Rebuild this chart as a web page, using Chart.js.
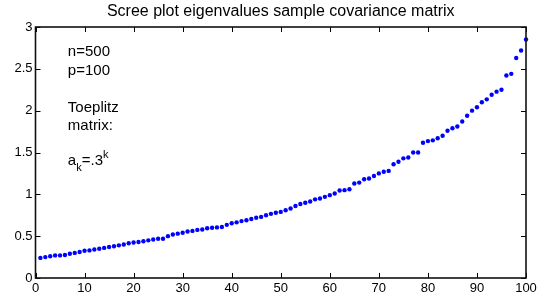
<!DOCTYPE html>
<html>
<head>
<meta charset="utf-8">
<script src="https://cdn.jsdelivr.net/npm/chart.js@4/dist/chart.umd.min.js"></script>
<style>
  html, body { margin: 0; padding: 0; background: #fff; }
  #wrap { width: 537px; height: 301px; }
</style>
</head>
<body>
<div id="wrap"><canvas id="c" width="537" height="301"></canvas></div>
<script>
const titleText = 'Scree plot eigenvalues sample covariance matrix';
const componentIndex = Array.from({length: 100}, (_, i) => i + 1);
const eigenvalues = [
  0.24, 0.25, 0.26, 0.27, 0.27, 0.275, 0.29, 0.30, 0.31, 0.325,
  0.33, 0.34, 0.35, 0.36, 0.37, 0.38, 0.39, 0.40, 0.415, 0.425,
  0.43, 0.44, 0.45, 0.46, 0.47, 0.47, 0.50, 0.52, 0.53, 0.54,
  0.555, 0.563, 0.575, 0.58, 0.595, 0.60, 0.605, 0.61, 0.635, 0.655,
  0.665, 0.68, 0.69, 0.705, 0.72, 0.73, 0.75, 0.767, 0.78, 0.79,
  0.81, 0.83, 0.86, 0.885, 0.90, 0.914, 0.94, 0.95, 0.97, 0.99,
  1.01, 1.045, 1.05, 1.06, 1.13, 1.14, 1.18, 1.19, 1.22, 1.25,
  1.27, 1.28, 1.36, 1.39, 1.43, 1.44, 1.50, 1.50, 1.617, 1.636,
  1.645, 1.67, 1.70, 1.76, 1.79, 1.81, 1.87, 1.94, 2.00, 2.04,
  2.10, 2.135, 2.19, 2.227, 2.25, 2.42, 2.44, 2.63, 2.72, 2.85
];
const xTicks = [0, 10, 20, 30, 40, 50, 60, 70, 80, 90, 100];
const yTicks = [0, 0.5, 1, 1.5, 2, 2.5, 3];
const noteLines = ['n=500', 'p=100', '', 'Toeplitz', 'matrix:'];

const FONT = '"Liberation Sans", Arial, Helvetica, sans-serif';

const framePlugin = {
  id: 'frame',
  afterDraw(chart) {
    const {ctx, chartArea: {left, right, top, bottom}, scales: {x, y}} = chart;
    ctx.save();
    // title centred over the plot area
    ctx.fillStyle = '#000';
    ctx.font = '16px ' + FONT;
    ctx.textAlign = 'center';
    ctx.textBaseline = 'alphabetic';
    ctx.fillText(titleText, (left + right) / 2, 16);

    ctx.strokeStyle = '#000';
    ctx.lineWidth = 1;
    const tl = 5;
    ctx.beginPath();
    xTicks.forEach(v => {
      const px = Math.round(x.getPixelForValue(v)) + 0.5;
      ctx.moveTo(px, bottom); ctx.lineTo(px, bottom - tl);
      ctx.moveTo(px, top); ctx.lineTo(px, top + tl);
    });
    yTicks.forEach(v => {
      const py = Math.round(y.getPixelForValue(v)) + 0.5;
      ctx.moveTo(left, py); ctx.lineTo(left + tl, py);
      ctx.moveTo(right, py); ctx.lineTo(right - tl, py);
    });
    ctx.stroke();
    ctx.lineWidth = 1.6;
    ctx.strokeStyle = '#111';
    ctx.strokeRect(left, top, right - left, bottom - top);

    // annotation text
    ctx.fillStyle = '#000';
    ctx.textAlign = 'left';
    const tx = x.getPixelForValue(6.6);
    const lineH = 18.5;
    let by = 56;
    ctx.font = '15px ' + FONT;
    noteLines.forEach(s => {
      if (s) ctx.fillText(s, tx, by);
      by += lineH;
    });
    // a_k = .3^k
    const baseY = 165;
    ctx.font = '15px ' + FONT;
    ctx.fillText('a', tx, baseY);
    let cx = tx + ctx.measureText('a').width;
    ctx.font = '11px ' + FONT;
    ctx.fillText('k', cx, baseY + 6);
    cx += ctx.measureText('k').width;
    ctx.font = '15px ' + FONT;
    ctx.fillText('=.3', cx, baseY);
    cx += ctx.measureText('=.3').width;
    ctx.font = '11px ' + FONT;
    ctx.fillText('k', cx, baseY - 7);
    ctx.restore();
  }
};

new Chart(document.getElementById('c'), {
  type: 'scatter',
  data: {
    datasets: [{
      data: componentIndex.map((v, i) => ({x: v, y: eigenvalues[i]})),
      backgroundColor: '#0000ff',
      borderColor: '#0000ff',
      pointRadius: 2.2,
      pointBorderWidth: 0,
      clip: false
    }]
  },
  plugins: [framePlugin],
  options: {
    responsive: false,
    animation: false,
    devicePixelRatio: 1,
    layout: { padding: { left: 0, right: 11, top: 27, bottom: 0 } },
    plugins: {
      legend: { display: false },
      tooltip: { enabled: false },
      title: { display: false }
    },
    scales: {
      x: {
        type: 'linear',
        min: 0, max: 100,
        afterBuildTicks: s => { s.ticks = xTicks.map(v => ({value: v})); },
        afterFit: s => { s.height = 23; s.paddingRight = 0; s.paddingLeft = 0; },
        grid: { display: false, drawTicks: false },
        border: { display: false },
        ticks: { color: '#000', font: { family: FONT, size: 13 }, padding: 3, maxRotation: 0, autoSkip: false,
                 callback: v => String(v) }
      },
      y: {
        type: 'linear',
        min: 0, max: 3,
        afterBuildTicks: s => { s.ticks = yTicks.map(v => ({value: v})); },
        afterFit: s => { s.width = 35.5; s.paddingTop = 0; s.paddingBottom = 0; },
        grid: { display: false, drawTicks: false },
        border: { display: false },
        ticks: { color: '#000', font: { family: FONT, size: 13 }, padding: 3,
                 callback: v => String(v) }
      }
    }
  }
});
</script>
</body>
</html>
